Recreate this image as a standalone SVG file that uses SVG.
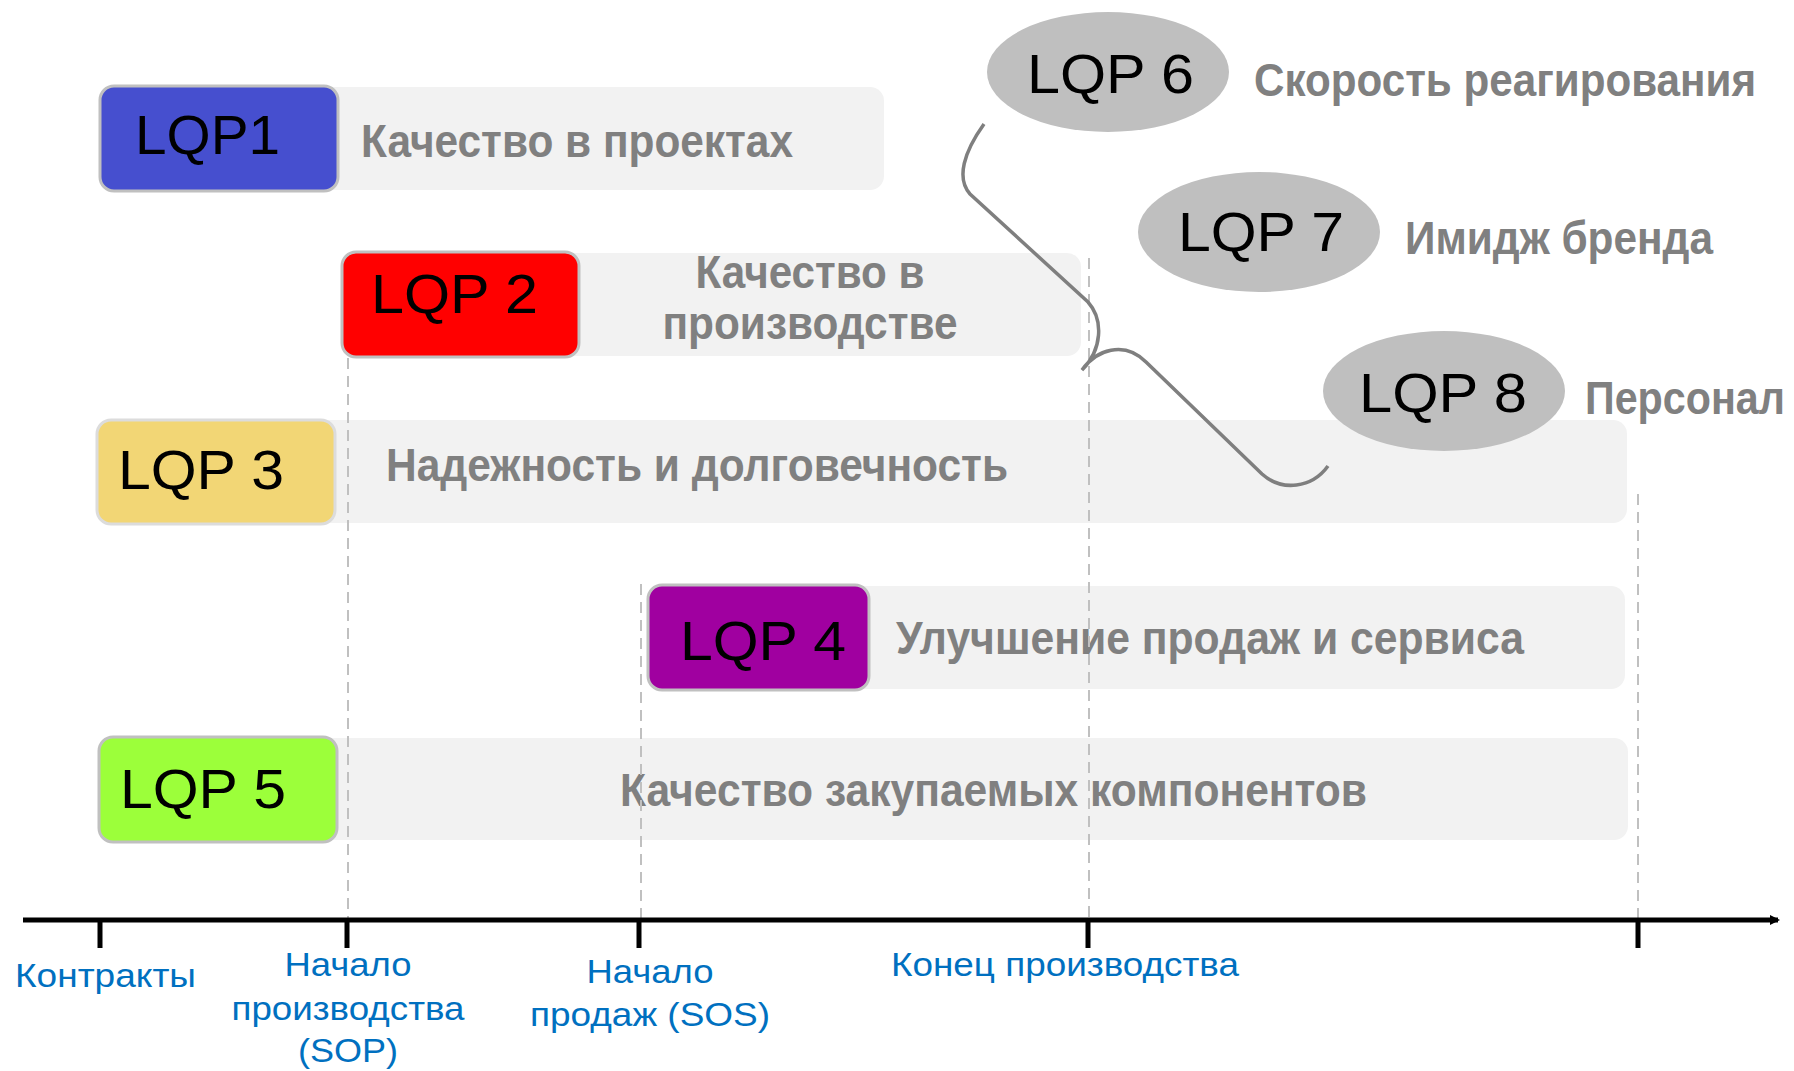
<svg xmlns="http://www.w3.org/2000/svg" width="1794" height="1071" viewBox="0 0 1794 1071">
<style>
.bar{fill:#f2f2f2}
.box{stroke:#c0c0c0;stroke-width:3}
.lqp{font-family:"Liberation Sans",Arial,sans-serif;font-size:56px;fill:#000}
.desc{font-family:"Liberation Sans",Arial,sans-serif;font-size:46px;font-weight:bold;fill:#808080}
.ax{font-family:"Liberation Sans",Arial,sans-serif;font-size:34px;fill:#0070c0}
.dash{stroke:#c0c0c0;stroke-width:2;stroke-dasharray:11 7;fill:none}
.ell{fill:#bfbfbf}
</style>
<defs>
<marker id="arr" markerWidth="10" markerHeight="10" refX="8" refY="5" orient="auto" markerUnits="userSpaceOnUse">
<path d="M0,0 L10,5 L0,10 z" fill="#000"/>
</marker>
</defs>
<rect width="1794" height="1071" fill="#fff"/>

<g id="lqp1">
<rect class="bar" x="300" y="87" width="584" height="103" rx="14"/>
<rect class="box" x="100" y="86" width="238" height="105" rx="14" fill="#464fcf"/>
<text class="lqp" x="135" y="154" textLength="145" lengthAdjust="spacingAndGlyphs">LQP1</text>
<text class="desc" x="361" y="157" textLength="432" lengthAdjust="spacingAndGlyphs">Качество в проектах</text>
</g>

<g id="lqp2">
<rect class="bar" x="540" y="253" width="541" height="103" rx="14"/>
<rect class="box" x="342" y="252" width="237" height="105" rx="14" fill="#ff0000"/>
<text class="lqp" x="371" y="313" textLength="167" lengthAdjust="spacingAndGlyphs">LQP 2</text>
<text class="desc" x="810" y="288" text-anchor="middle" textLength="229" lengthAdjust="spacingAndGlyphs">Качество в</text>
<text class="desc" x="810" y="339" text-anchor="middle" textLength="295" lengthAdjust="spacingAndGlyphs">производстве</text>
</g>

<g id="lqp3">
<rect class="bar" x="300" y="420" width="1327" height="103" rx="14"/>
<rect x="97" y="420" width="238" height="104" rx="14" fill="#f2d675" stroke="#dcdcdc" stroke-width="3"/>
<text class="lqp" x="118" y="489" textLength="166" lengthAdjust="spacingAndGlyphs">LQP 3</text>
<text class="desc" x="386" y="481" textLength="622" lengthAdjust="spacingAndGlyphs">Надежность и долговечность</text>
</g>

<g id="lqp4">
<rect class="bar" x="820" y="586" width="805" height="103" rx="14"/>
<rect class="box" x="648" y="585" width="221" height="105" rx="14" fill="#a000a0"/>
<text class="lqp" x="680" y="660" textLength="166" lengthAdjust="spacingAndGlyphs">LQP 4</text>
<text class="desc" x="896" y="654" textLength="628" lengthAdjust="spacingAndGlyphs">Улучшение продаж и сервиса</text>
</g>

<g id="lqp5">
<rect class="bar" x="300" y="738" width="1328" height="102" rx="14"/>
<rect class="box" x="99" y="737" width="238" height="105" rx="14" fill="#9cff3a"/>
<text class="lqp" x="120" y="808" textLength="166" lengthAdjust="spacingAndGlyphs">LQP 5</text>
<text class="desc" x="620" y="806" textLength="747" lengthAdjust="spacingAndGlyphs">Качество закупаемых компонентов</text>
</g>

<g id="guides">
<line class="dash" x1="348" y1="358" x2="348" y2="918"/>
<line class="dash" x1="641" y1="584" x2="641" y2="918"/>
<line class="dash" x1="1089" y1="258" x2="1089" y2="918"/>
<line class="dash" x1="1638" y1="494" x2="1638" y2="918"/>
</g>

<g id="lqp6">
<ellipse class="ell" cx="1108" cy="72" rx="121" ry="60"/>
<text class="lqp" x="1027" y="93" textLength="167" lengthAdjust="spacingAndGlyphs">LQP 6</text>
<text class="desc" x="1254" y="96" textLength="502" lengthAdjust="spacingAndGlyphs">Скорость реагирования</text>
</g>

<g id="lqp7">
<ellipse class="ell" cx="1259" cy="232" rx="121" ry="60"/>
<text class="lqp" x="1178" y="251" textLength="166" lengthAdjust="spacingAndGlyphs">LQP 7</text>
<text class="desc" x="1405" y="254" textLength="308" lengthAdjust="spacingAndGlyphs">Имидж бренда</text>
</g>

<g id="lqp8">
<ellipse class="ell" cx="1444" cy="391" rx="121" ry="60"/>
<text class="lqp" x="1359" y="412" textLength="168" lengthAdjust="spacingAndGlyphs">LQP 8</text>
<text class="desc" x="1585" y="414" textLength="200" lengthAdjust="spacingAndGlyphs">Персонал</text>
</g>

<g id="connectors">
<path d="M984,124 C964,152 956,178 970,194 L1088,302 C1104,320 1102,350 1082,370 C1096,350 1124,340 1146,362 L1262,474 C1282,492 1312,488 1328,466" fill="none" stroke="#7f7f7f" stroke-width="3.5"/>
<line x1="23" y1="920" x2="1778" y2="920" stroke="#000" stroke-width="5" marker-end="url(#arr)"/>
<g stroke="#000" stroke-width="5">
<line x1="100" y1="920" x2="100" y2="948"/>
<line x1="347" y1="920" x2="347" y2="948"/>
<line x1="639" y1="920" x2="639" y2="948"/>
<line x1="1088" y1="920" x2="1088" y2="948"/>
<line x1="1638" y1="920" x2="1638" y2="948"/>
</g>
</g>

<g id="axis-labels">
<text class="ax" x="15" y="987" textLength="181" lengthAdjust="spacingAndGlyphs">Контракты</text>
<text class="ax" x="348" y="976" text-anchor="middle" textLength="127" lengthAdjust="spacingAndGlyphs">Начало</text>
<text class="ax" x="348" y="1020" text-anchor="middle" textLength="233" lengthAdjust="spacingAndGlyphs">производства</text>
<text class="ax" x="348" y="1062" text-anchor="middle" textLength="100" lengthAdjust="spacingAndGlyphs">(SOP)</text>
<text class="ax" x="650" y="983" text-anchor="middle" textLength="127" lengthAdjust="spacingAndGlyphs">Начало</text>
<text class="ax" x="650" y="1026" text-anchor="middle" textLength="240" lengthAdjust="spacingAndGlyphs">продаж (SOS)</text>
<text class="ax" x="891" y="976" textLength="348" lengthAdjust="spacingAndGlyphs">Конец производства</text>
</g>
</svg>
